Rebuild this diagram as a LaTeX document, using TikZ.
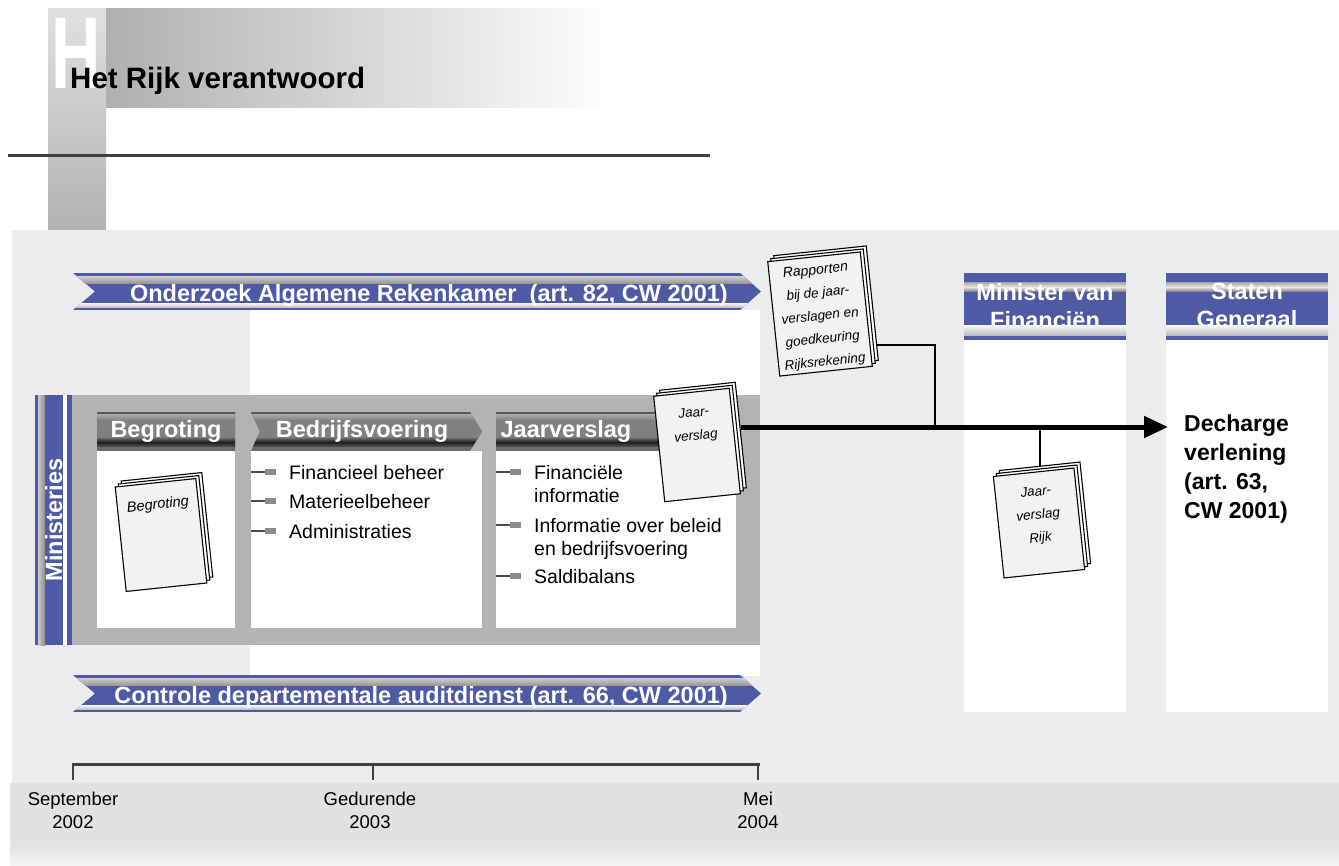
\documentclass[tikz,border=0pt]{standalone}
\usepackage{fontspec}
\setmainfont{Liberation Sans}
\usetikzlibrary{arrows.meta,calc}
\definecolor{panelgray}{HTML}{EBECEE}
\definecolor{bandgray}{HTML}{E2E2E2}
\definecolor{framegray}{HTML}{B3B3B3}
\definecolor{rkblue}{HTML}{4F5AA5}
\definecolor{sheetgray}{HTML}{F2F2F2}
\definecolor{rulegray}{HTML}{404040}
\tikzset{
	sheet/.style={draw=black, line width=1.1pt, fill=white, inner sep=0pt},
	doctext/.style={font=\fontsize{13.5}{23}\selectfont\itshape, align=center, inner sep=0pt},
	headtext/.style={font=\fontsize{23.5}{28}\selectfont\bfseries, text=white, inner sep=0pt},
	bannertext/.style={font=\fontsize{23.5}{28}\selectfont\bfseries, text=white, inner sep=0pt},
	itemtext/.style={font=\fontsize{19.5}{23}\selectfont, align=left, anchor=north west, inner sep=0pt},
	datetext/.style={font=\fontsize{18.5}{23}\selectfont, align=center, anchor=north, inner sep=0pt},
	flow/.style={line width=5pt, -{Triangle[length=24pt,width=21pt]}},
	link/.style={line width=2pt}
}
\newcommand\docstack[6]{%
	\foreach \off in {6,3}
		\node[sheet, rotate=6, minimum width=#3, minimum height=#4] (#1-b\off) at ($(#2)+(\off,-\off)$) {};
	\node[sheet, fill=sheetgray, rotate=6, minimum width=#3, minimum height=#4] (#1) at (#2) {};
	\node[doctext, rotate=6, anchor=north] (#1-txt) at ($(#1.north)!#5!(#1.south)$) {#6};
}
\newcommand\rkbanner[1]{%
	\begin{scope}
		\clip (73,#1) -- (740,#1) -- (761,#1+18.5) -- (740,#1+37) -- (73,#1+37) -- (95,#1+18.5) -- cycle;
		\fill[rkblue] (60,#1) rectangle (770,#1+37);
		\shade[top color=black!19, bottom color=black!40] (60,#1+3) rectangle (770,#1+10);
		\shade[top color=black!3, bottom color=black!23] (60,#1+30) rectangle (770,#1+34);
	\end{scope}
}
\newcommand\grayhead[1]{%
	\begin{scope}
		\clip #1;
		\fill[black!58] (90,412) rectangle (740,451);
		\fill[black!65] (90,412) rectangle (740,414);
		\shade[top color=black!33, bottom color=black!48] (90,414) rectangle (740,420);
		\fill[black!50] (90,420) rectangle (740,437);
		\shade[top color=black!52, bottom color=black!88] (90,437) rectangle (740,442);
		\shade[top color=black!88, bottom color=black!71] (90,442) rectangle (740,446);
	\end{scope}
}
\newcommand\bluehead[4]{%
	\fill[rkblue] (#1,273) rectangle (#2,340);
	\shade[top color=black!35, bottom color=black!10] (#1,282) rectangle (#2,287);
	\shade[top color=black!10, bottom color=black!45] (#1,287) rectangle (#2,291);
	\node[headtext, align=center, anchor=north] (#3) at ({(#1+#2)/2},283) {#4};
	\shade[top color=black!2, bottom color=black!25] (#1,325) rectangle (#2,335);
	\fill[white] (#1,340) rectangle (#2,712);
}
\newcommand\itembullet[2]{%
	\draw[line width=1.5pt, black!70] (#1,#2) -- (#1+15,#2);
	\fill[black!45] (#1+14,#2-3) rectangle (#1+25,#2+3);
}
\begin{document}
\begin{tikzpicture}[x=1pt,y=-1pt]
	\useasboundingbox (0,0) rectangle (1339,865);
	\fill[white] (0,0) rectangle (1339,865);

	\shade[top color=black!12, bottom color=black!30] (48,8) rectangle (106,230);
	\shade[left color=black!31, right color=white] (106,8) rectangle (615,107);
	\node[font=\fontsize{102}{102}\selectfont\bfseries, text=white, anchor=base west, inner sep=0pt] (bigH) at (51,88) {\scalebox{0.67}[1]{H}};
	\node[font=\fontsize{29.5}{30}\selectfont\bfseries, anchor=base west, inner sep=0pt] (title) at (70,88) {Het Rijk verantwoord};
	\draw[line width=3pt, rulegray] (8,155) -- (710,155);

	\fill[panelgray] (12,230) rectangle (1339,783);
	\fill[bandgray] (10,783) rectangle (1339,845);
	\shade[top color=bandgray, bottom color=black!4] (10,845) rectangle (1339,865);
	\fill[white] (250,310) rectangle (760,676);

	\rkbanner{273}
	\node[bannertext, anchor=base east] (ark) at (728,301) {Onderzoek Algemene Rekenkamer~ (art. 82, CW 2001)};
	\rkbanner{675}
	\node[bannertext, anchor=base east] (cad) at (728,703) {Controle departementale auditdienst (art. 66, CW 2001)};

	\fill[framegray] (72,395) rectangle (760,645);
	\fill[rkblue] (35,395) rectangle (72,645);
	\shade[left color=black!20, right color=black!45] (38,395) rectangle (45,645);
	\fill[white] (63,395) rectangle (67,645);
	\node[headtext, rotate=90, anchor=base] (minist) at (62,520) {Ministeries};

	\fill[white] (97,451) rectangle (235,628);
	\fill[white] (251,451) rectangle (482,628);
	\fill[white] (496,451) rectangle (736,628);
	\grayhead{(97,412) rectangle (235,451)}
	\grayhead{(251,412) -- (470,412) -- (482,431.5) -- (470,451) -- (251,451) -- (260,431.5) -- cycle}
	\grayhead{(496,412) rectangle (736,451)}
	\node[headtext, anchor=base] (hbegr) at (166,437) {Begroting};
	\node[headtext, anchor=base] (hbedr) at (362,437) {Bedrijfsvoering};
	\node[headtext, anchor=base] (hjaar) at (566,437) {Jaarverslag};

	\foreach \y/\txt [count=\i] in {472/Financieel beheer, 501/Materieelbeheer, 531/Administraties} {
		\itembullet{251}{\y}
		\node[itemtext] (bv\i) at (289,\y-7) {\txt};
	}
	\foreach \y/\txt [count=\i] in {472/{Financiële\\informatie}, 525/{Informatie over beleid\\en bedrijfsvoering}, 576/Saldibalans} {
		\itembullet{496}{\y}
		\node[itemtext] (jv\i) at (534,\y-7) {\txt};
	}

	\bluehead{964}{1126}{minfin}{Minister van\\Financiën}
	\bluehead{1166}{1328}{statgen}{Staten\\Generaal}
	\node[font=\fontsize{23}{29}\selectfont\bfseries, align=left, anchor=north west, inner sep=0pt] (dech) at (1184,415) {Decharge\\verlening\\(art. 63,\\CW 2001)};

	\docstack{begdoc}{161,535}{81pt}{105pt}{16pt}{\fontsize{14.5}{20}\selectfont Begroting}
	\docstack{jvdoc}{697,445}{76pt}{106pt}{16pt}{Jaar-\\verslag}
	\docstack{rap}{820,314}{93pt}{115pt}{8.5pt}{\fontsize{14}{21}\selectfont Rapporten\\bij de jaar-\\verslagen en\\goedkeuring\\Rijksrekening}
	\docstack{rijk}{1039,523}{81pt}{102pt}{15pt}{Jaar-\\verslag\\Rijk}

	\coordinate (tip) at (1168,427);
	\coordinate (join) at (935,427);
	\draw[link] ($(rap-b6.east)!0.72!(rap-b6.south east)$) -| (join);
	\draw[link] (join -| rijk-b6.north) -- (rijk-b6.north);
	\draw[flow] (jvdoc-b6.east |- tip) -- (tip);

	\coordinate (tl0) at (73,764);
	\coordinate (tl1) at (373,764);
	\coordinate (tl2) at (758,764);
	\draw[line width=3pt, rulegray] ([xshift=-1.5pt]tl0) -- ([xshift=1.5pt]tl2);
	\foreach \c in {tl0,tl1,tl2}
		\draw[line width=2pt, rulegray] (\c) -- ++(0,16);
	\node[datetext] (d0) at (73,792) {September\\2002};
	\node[datetext] (d1) at (370,792) {Gedurende\\2003};
	\node[datetext] (d2) at (758,792) {Mei\\2004};
\end{tikzpicture}
\end{document}
